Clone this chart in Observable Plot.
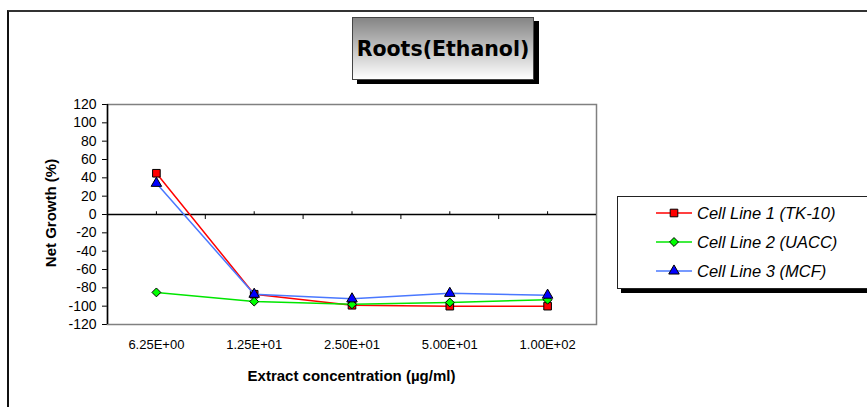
<!DOCTYPE html>
<html>
<head>
<meta charset="utf-8">
<script src="https://cdn.jsdelivr.net/npm/d3@7"></script>
<script src="https://cdn.jsdelivr.net/npm/@observablehq/plot@0.6"></script>
<style>
  body { margin: 0; background: #fff; }
  #wrap { position: relative; width: 867px; height: 407px; overflow: hidden; font-family: "Liberation Sans", Arial, sans-serif; }
  #wrap > svg { position: absolute; left: 0; top: 0; }
  .outer { position: absolute; left: 7px; top: 10px; width: 950px; height: 500px; border-left: 2px solid #111; border-top: 2px solid #333; }
  .title { position: absolute; left: 352px; top: 17px; width: 180px; height: 61px; border: 1px solid #444;
           background: linear-gradient(to bottom, #858585, #ffffff); box-shadow: 5px 4px 0 #000;
           font-family: "DejaVu Sans", sans-serif; font-weight: bold; font-size: 20.5px; color: #000;
           display: flex; align-items: center; justify-content: center; }
  .legend { position: absolute; left: 617px; top: 196px; width: 300px; height: 91px; border: 1px solid #222; background: #fff;
            box-shadow: 4px 4px 0 #000; }
  .row { position: absolute; left: 38px; height: 20px; display: flex; align-items: center; font-style: italic; font-size: 16.5px; color: #000; }
  .row svg { margin-right: 5px; }
  .xt { position: absolute; left: 107px; width: 489px; top: 367px; text-align: center; font-weight: bold; font-size: 15px; }
  .yt { position: absolute; left: 50px; top: 213px; transform: translate(-50%, -50%) rotate(-90deg); white-space: nowrap; font-weight: bold; font-size: 15px; }
</style>
</head>
<body>
<div id="wrap"></div>
<script>
const categories = ["6.25E+00", "1.25E+01", "2.50E+01", "5.00E+01", "1.00E+02"];
const seriesNames = ["Cell Line 1 (TK-10)", "Cell Line 2 (UACC)", "Cell Line 3 (MCF)"];
const tk10 = [45, -87, -99, -100, -100];
const uacc = [-85, -95, -98, -96, -93];
const mcf = [34, -87, -92, -86, -88];
const yTicks = [-120, -100, -80, -60, -40, -20, 0, 20, 40, 60, 80, 100, 120];

const styles = [
  {values: tk10, line: "#ff0000", fill: "#ff0000", symbol: "square", r: 4.3},
  {values: uacc, line: "#00e600", fill: "#00ff00", symbol: "diamond2", r: 4.0},
  {values: mcf, line: "#4a78ff", fill: "#0000ff", symbol: "triangle", r: 3.9}
];

const idx = categories.map((c, i) => i);
const bounds = idx.slice(1).map(i => i - 0.5);

const marks = [
  Plot.frame({stroke: "#808080", strokeWidth: 1.5}),
  Plot.ruleY([0], {stroke: "#000", strokeWidth: 1.5}),
  Plot.ruleX([-0.5], {stroke: "#000", strokeWidth: 1.5}),
  Plot.ruleX(bounds, {x: d => d, y1: 0, y2: -5.5, stroke: "#000", strokeWidth: 1}),
  Plot.ruleX(idx, {x: d => d, y1: 0, y2: 3, stroke: "#000", strokeWidth: 1}),
  Plot.text(idx, {x: d => d, y: -120, text: i => categories[i], dy: 20, fontSize: 13, fill: "#000"}),
  Plot.text(yTicks, {x: -0.5, y: d => d, text: d => String(d), textAnchor: "end", dx: -11, fontSize: 14, fill: "#000"})
];
styles.forEach((s, k) => {
  const data = categories.map((c, i) => ({i, c, v: s.values[i], series: seriesNames[k]}));
  marks.push(Plot.line(data, {x: "i", y: "v", stroke: s.line, strokeWidth: 1.5}));
  marks.push(Plot.dot(data, {x: "i", y: "v", symbol: () => s.symbol, r: s.r, fill: s.fill, stroke: "#000", strokeWidth: 1}));
});

const chart = Plot.plot({
  width: 867,
  height: 407,
  marginLeft: 107,
  marginRight: 271,
  marginTop: 104,
  marginBottom: 83,
  style: {fontFamily: "'Liberation Sans', Arial, sans-serif", fontSize: "13px", color: "#000", background: "transparent", overflow: "visible"},
  symbol: {type: "identity"},
  x: {type: "linear", domain: [-0.5, categories.length - 0.5], axis: null},
  y: {domain: [-120, 120], ticks: yTicks, tickSize: 5, tickFormat: () => "", label: null},
  marks
});

const wrap = document.getElementById("wrap");
wrap.appendChild(chart);

const outer = document.createElement("div");
outer.className = "outer";
wrap.appendChild(outer);

const title = document.createElement("div");
title.className = "title";
title.textContent = "Roots(Ethanol)";
wrap.appendChild(title);

const xt = document.createElement("div");
xt.className = "xt";
xt.textContent = "Extract concentration (µg/ml)";
wrap.appendChild(xt);

const yt = document.createElement("div");
yt.className = "yt";
yt.textContent = "Net Growth (%)";
wrap.appendChild(yt);

const legend = document.createElement("div");
legend.className = "legend";
const rowTops = [6, 35, 64];
const ns = "http://www.w3.org/2000/svg";
styles.forEach((s, k) => {
  const row = document.createElement("div");
  row.className = "row";
  row.style.top = rowTops[k] + "px";
  const svg = document.createElementNS(ns, "svg");
  svg.setAttribute("width", 36); svg.setAttribute("height", 14);
  const ln = document.createElementNS(ns, "line");
  ln.setAttribute("x1", 0); ln.setAttribute("x2", 36); ln.setAttribute("y1", 7); ln.setAttribute("y2", 7);
  ln.setAttribute("stroke", s.line); ln.setAttribute("stroke-width", 1.5);
  svg.appendChild(ln);
  const sym = {square: d3.symbolSquare, diamond2: d3.symbolDiamond2, triangle: d3.symbolTriangle}[s.symbol];
  const p = document.createElementNS(ns, "path");
  p.setAttribute("d", d3.symbol(sym, Math.PI * s.r * s.r)());
  p.setAttribute("transform", "translate(18,7)");
  p.setAttribute("fill", s.fill); p.setAttribute("stroke", "#000");
  svg.appendChild(p);
  row.appendChild(svg);
  const t = document.createElement("span");
  t.textContent = seriesNames[k];
  row.appendChild(t);
  legend.appendChild(row);
});
wrap.appendChild(legend);
</script>
</body>
</html>
